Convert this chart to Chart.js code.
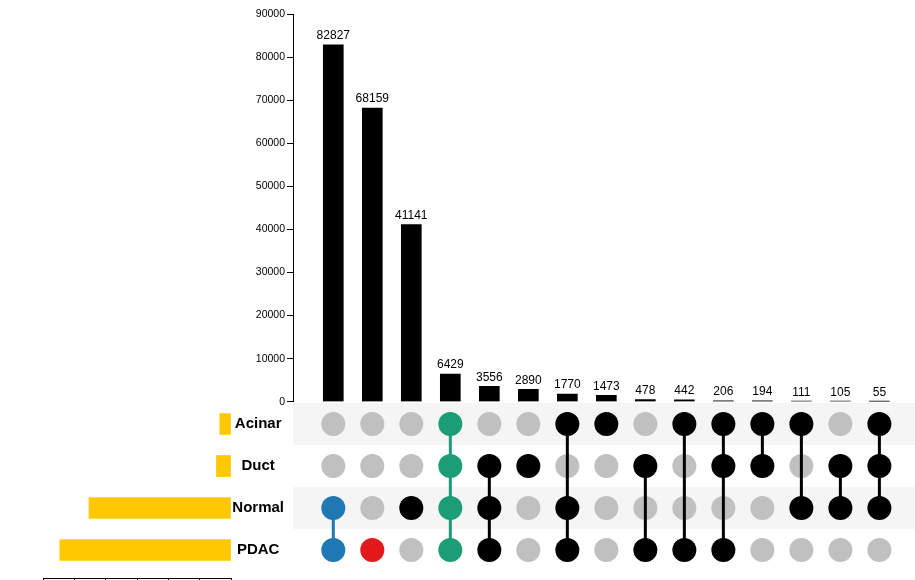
<!DOCTYPE html>
<html>
<head>
<meta charset="utf-8">
<script src="https://cdn.jsdelivr.net/npm/chart.js@4.4.0/dist/chart.umd.min.js"></script>
<style>
  html, body { margin: 0; padding: 0; width: 915px; height: 580px; overflow: hidden; background: #fff; }
  .box { position: absolute; }
</style>
</head>
<body>
<div class="box" style="left:0;top:0;width:915px;height:410px;"><canvas id="bars"></canvas></div>
<div class="box" style="left:0;top:394px;width:915px;height:186px;"><canvas id="matrix"></canvas></div>
<div class="box" style="left:0;top:403px;width:240px;height:207px;"><canvas id="sizes"></canvas></div>
<script>
// ---- data ----
const setNames = ['Acinar', 'Duct', 'Normal', 'PDAC'];
const setSizes = [10680, 13913, 135994, 163867];
const intersectionCounts = [82827, 68159, 41141, 6429, 3556, 2890, 1770, 1473, 478, 442, 206, 194, 111, 105, 55];
const intersectionMembers = [
  ['Normal', 'PDAC'],
  ['PDAC'],
  ['Normal'],
  ['Acinar', 'Duct', 'Normal', 'PDAC'],
  ['Duct', 'Normal', 'PDAC'],
  ['Duct'],
  ['Acinar', 'Normal', 'PDAC'],
  ['Acinar'],
  ['Duct', 'PDAC'],
  ['Acinar', 'PDAC'],
  ['Acinar', 'Duct', 'PDAC'],
  ['Acinar', 'Duct'],
  ['Acinar', 'Normal'],
  ['Duct', 'Normal'],
  ['Acinar', 'Duct', 'Normal']
];
const countTicks = [0, 10000, 20000, 30000, 40000, 50000, 60000, 70000, 80000, 90000];
const sizeTicks = [0, 30000, 60000, 90000, 120000, 150000, 180000];

// ---- styles ----
const FONT = '"Liberation Sans", Arial, sans-serif';
const columnColors = ['#1f77b4', '#e31a1c', '#000000', '#1b9e77'];
const colorOf = i => columnColors[i] || '#000000';
const GRAY = '#c0c0c0';
const STRIPE = '#f5f5f5';
const SET_COLOR = '#ffc800';
const xMin = -1.033, xMax = 14.913;

Chart.defaults.font.family = FONT;
Chart.defaults.color = '#000';
Chart.defaults.animation = false;
Chart.defaults.events = [];
Chart.defaults.plugins.legend.display = false;
Chart.defaults.plugins.tooltip.enabled = false;

// ---- intersection bar chart ----
const barLabels = {
  id: 'barLabels',
  afterDatasetsDraw(chart) {
    const ctx = chart.ctx;
    const meta = chart.getDatasetMeta(0);
    ctx.save();
    ctx.font = '12px ' + FONT;
    ctx.fillStyle = '#000';
    ctx.textAlign = 'center';
    ctx.textBaseline = 'bottom';
    meta.data.forEach((el, i) => {
      ctx.fillText(String(intersectionCounts[i]), el.x, el.y - 3);
    });
    ctx.restore();
  }
};

new Chart(document.getElementById('bars'), {
  type: 'bar',
  data: {
    datasets: [{
      data: intersectionCounts.map((v, i) => ({ x: i, y: v })),
      backgroundColor: '#000',
      barThickness: 20
    }]
  },
  options: {
    responsive: true,
    maintainAspectRatio: false,
    layout: { autoPadding: false, padding: { left: 233, right: 0, top: 14, bottom: 7 } },
    scales: {
      x: { type: 'linear', min: xMin, max: xMax, offset: false, display: false },
      y: {
        type: 'linear', min: 0, max: 90000,
        afterBuildTicks(s) { s.ticks = countTicks.map(v => ({ value: v })); },
        afterFit(s) { s.width = 60; },
        border: { display: true, color: '#000', width: 1 },
        grid: { drawOnChartArea: false, drawTicks: true, tickLength: 6, color: '#000' },
        ticks: { font: { size: 10.5 }, color: '#000', padding: 2, callback: v => String(v) }
      }
    }
  },
  plugins: [barLabels]
});

// ---- matrix ----
const stripes = {
  id: 'stripes',
  beforeDatasetsDraw(chart) {
    const ctx = chart.ctx;
    const ys = chart.scales.y;
    const area = chart.chartArea;
    const half = (ys.getPixelForValue(1) - ys.getPixelForValue(0)) / 2;
    ctx.save();
    ctx.fillStyle = STRIPE;
    setNames.forEach((n, i) => {
      if (i % 2 === 0) {
        const c = ys.getPixelForValue(i);
        ctx.fillRect(area.left, c - half, area.right - area.left, half * 2);
      }
    });
    ctx.restore();
  }
};

const grayDots = [];
const memberDots = [];
const memberColors = [];
intersectionMembers.forEach((mem, i) => {
  setNames.forEach(n => {
    if (mem.includes(n)) { memberDots.push({ x: i, y: n }); memberColors.push(colorOf(i)); }
    else grayDots.push({ x: i, y: n });
  });
});
const lineSets = [];
intersectionMembers.forEach((mem, i) => {
  if (mem.length < 2) return;
  const idx = mem.map(n => setNames.indexOf(n));
  const lo = setNames[Math.min(...idx)], hi = setNames[Math.max(...idx)];
  lineSets.push({
    type: 'line',
    data: [{ x: i, y: lo }, { x: i, y: hi }],
    borderColor: colorOf(i),
    borderWidth: 3,
    pointRadius: 0,
    fill: false,
    order: 1
  });
});

new Chart(document.getElementById('matrix'), {
  type: 'scatter',
  data: {
    datasets: [
      { data: memberDots, pointRadius: 12, pointBackgroundColor: memberColors, pointBorderWidth: 0, order: 0 },
      { data: grayDots, pointRadius: 12, pointBackgroundColor: GRAY, pointBorderWidth: 0, order: 2 },
      ...lineSets
    ]
  },
  options: {
    responsive: true,
    maintainAspectRatio: false,
    clip: false,
    layout: { autoPadding: false, padding: { left: 231, right: 0, top: 9, bottom: 9 } },
    scales: {
      x: { type: 'linear', min: xMin, max: xMax, offset: false, display: false },
      y: {
        type: 'category', labels: setNames, offset: true,
        afterFit(s) { s.width = 62; },
        border: { display: false },
        grid: { display: false, drawTicks: true, tickLength: 9 },
        ticks: { font: { size: 15, weight: 'bold' }, color: '#000', crossAlign: 'center', padding: 0 }
      }
    }
  },
  plugins: [stripes]
});

// ---- set sizes ----
new Chart(document.getElementById('sizes'), {
  type: 'bar',
  data: {
    datasets: [{
      data: setSizes.map((v, i) => ({ x: v, y: i })),
      backgroundColor: SET_COLOR,
      barThickness: 21
    }]
  },
  options: {
    indexAxis: 'y',
    responsive: true,
    maintainAspectRatio: false,
    layout: { autoPadding: false, padding: { left: 43, right: 9, top: 0, bottom: 0 } },
    scales: {
      y: { type: 'linear', min: -0.5, max: 3.6667, reverse: true, offset: false, display: false },
      x: {
        type: 'linear', min: 0, max: 180000, reverse: true, position: 'bottom', offset: false,
        afterBuildTicks(s) { s.ticks = sizeTicks.map(v => ({ value: v })); },
        afterFit(s) { s.height = 32; },
        border: { display: true, color: '#000', width: 1 },
        grid: { drawOnChartArea: false, drawTicks: true, tickLength: 6, color: '#000' },
        ticks: { font: { size: 10.5 }, color: '#000', padding: 2, callback: v => String(v) }
      }
    }
  }
});
</script>
</body>
</html>
